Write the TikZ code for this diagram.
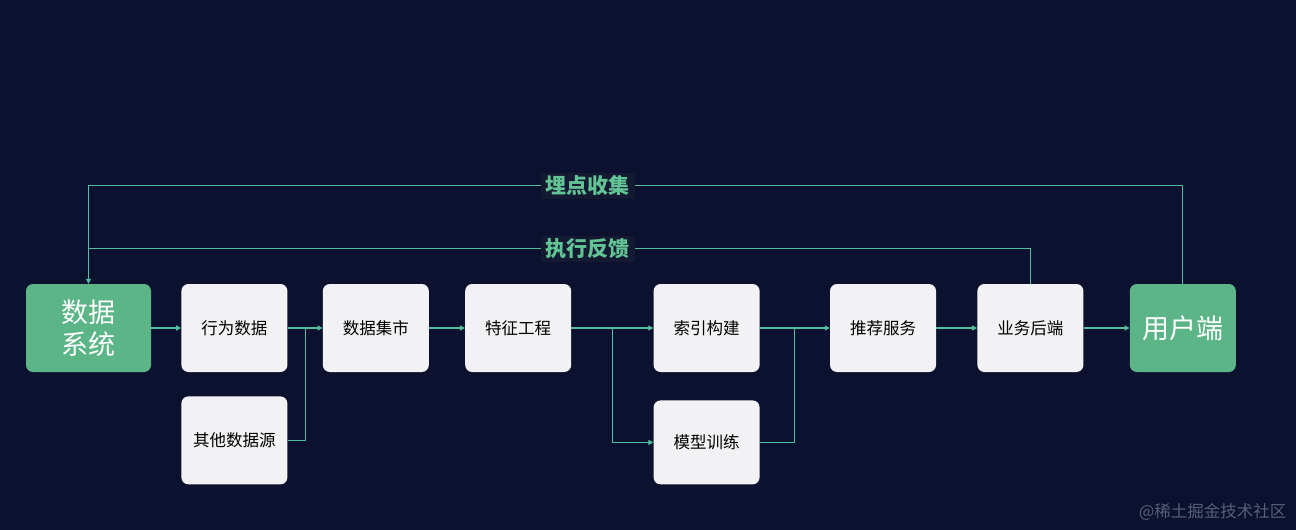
\documentclass[tikz,border=0pt]{standalone}
\usepackage{fontspec}
\setmainfont{Noto Sans CJK SC}
\usepackage{tikz}
\usetikzlibrary{arrows.meta,positioning,calc}
\definecolor{bgNavy}{RGB}{11,17,46}
\definecolor{tagBg}{RGB}{19,26,50}
\definecolor{sysGreen}{RGB}{91,181,134}
\definecolor{flowTeal}{RGB}{82,190,158}
\definecolor{tagGreen}{RGB}{98,196,148}
\definecolor{boxGray}{RGB}{242,242,244}
\definecolor{markGray}{RGB}{88,94,122}

\begin{document}
\begin{tikzpicture}[
        box/.style={fill=boxGray,rounded corners=7pt,align=center,font=\fontsize{16.5}{19}\selectfont,text=black,minimum width=106pt,minimum height=88pt,inner sep=0pt},
        endbox/.style={fill=sysGreen,rounded corners=7pt,align=center,text=white,font=\fontsize{27}{32}\selectfont,minimum height=88pt,inner sep=0pt},
        tag/.style={fill=tagBg,text=tagGreen,font=\fontsize{21}{24}\selectfont\bfseries,inner xsep=5pt,inner ysep=3pt},
        line/.style={draw=flowTeal,line width=1.1pt},
        flow/.style={line,-{Triangle[length=5pt,width=5pt]}}
      ]
        \fill[bgNavy] (0,0) rectangle (1296pt,-530pt);

        \node[endbox,minimum width=125pt] (sys) at (88.5pt,-328pt) {数据\\系统};
        \node[box,right=30pt of sys] (behav) {行为数据};
        \node[box,below=24pt of behav] (other) {其他数据源};
        \node[box,right=35pt of behav] (mart) {数据集市};
        \node[box,right=36pt of mart] (feat) {特征工程};
        \node[box,right=82pt of feat] (index) {索引构建};
        \node[box,below=28pt of index,minimum height=84pt] (train) {模型训练};
        \node[box,right=70pt of index] (rec) {推荐服务};
        \node[box,right=41pt of rec] (biz) {业务后端};
        \node[endbox,minimum width=106pt,right=46pt of biz] (user) {用户端};

        \coordinate (j1) at ($(behav.east)!0.5!(mart.west)$);
        \coordinate (j2) at ($(feat.east)!0.5!(index.west)$);
        \coordinate (j3) at ($(index.east)!0.5!(rec.west)$);

        \draw[flow] (sys) -- (behav);
        \draw[flow] (behav) -- (mart);
        \draw[line] (other) -| (j1);
        \draw[flow] (mart) -- (feat);
        \draw[flow] (feat) -- (index);
        \draw[flow] (j2) |- (train);
        \draw[line] (train) -| (j3);
        \draw[flow] (index) -- (rec);
        \draw[flow] (rec) -- (biz);
        \draw[flow] (biz) -- (user);

        % feedback loops back to the data system
        \draw[flow] (user.north) -- ++(0,98pt) coordinate (u1)
          -- node[tag,pos=0.544] (collect) {埋点收集} (u1 -| sys.north) -- (sys.north);
        \draw[line] (biz.north) -- ++(0,35pt) coordinate (b1)
          -- node[tag,pos=0.47] (exec) {执行反馈} (b1 -| sys.north);

        \node[anchor=east,text=markGray,font=\fontsize{16.5}{19}\selectfont] (mark) at (1290pt,-512pt) {@稀土掘金技术社区};
      \end{tikzpicture}
\end{document}
